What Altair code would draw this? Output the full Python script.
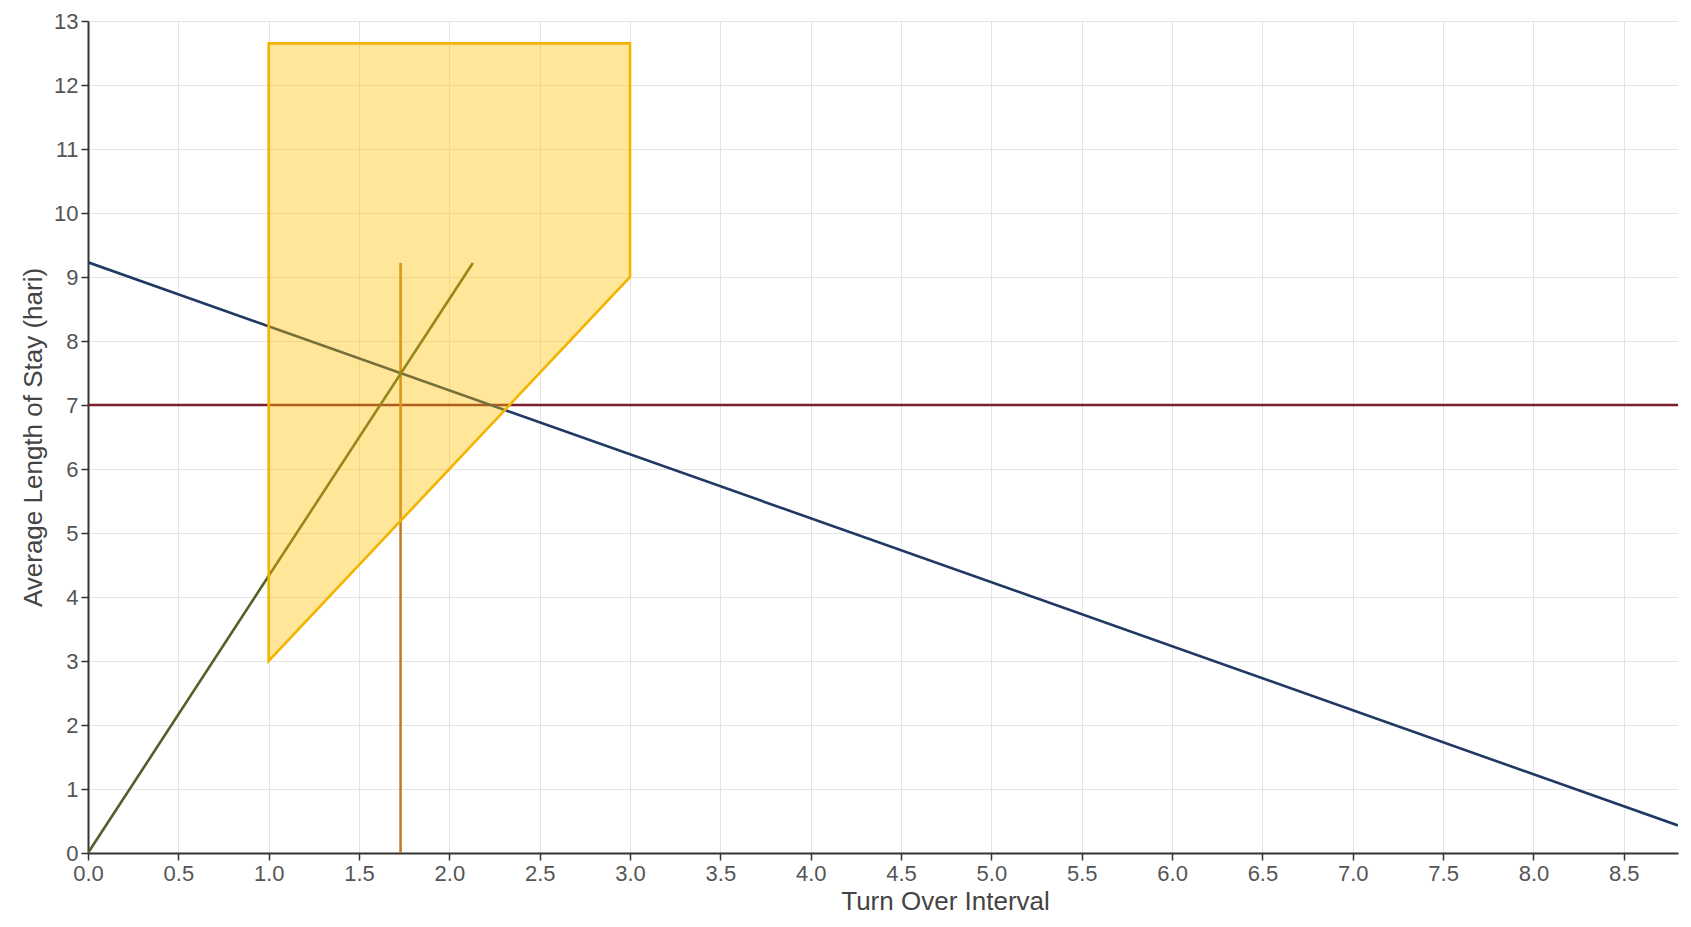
import altair as alt
import pandas as pd

# ---- data ----
x_max = 8.8
y_max = 13

# throughput line (blue)
blue_x = [0.0, 8.8]
blue_y = [9.23, 0.43]

# BOR line (green)
green_x = [0.0, 2.13]
green_y = [0.0, 9.22]

# TOI marker (orange vertical)
orange_x = [1.73, 1.73]
orange_y = [0.0, 9.22]

# LOS marker (red horizontal)
red_x = [0.0, 8.8]
red_y = [7.0, 7.0]

# efficient zone polygon
zone_x = [1.0, 3.0]
zone_top = [12.65, 12.65]
zone_bottom = [3.0, 9.0]

x_ticks = [i * 0.5 for i in range(18)]
y_ticks = list(range(0, 14))

FONT = "Liberation Sans"

xscale = alt.Scale(domain=[0, x_max], nice=False, zero=False)
yscale = alt.Scale(domain=[0, y_max], nice=False, zero=False)

xaxis = alt.Axis(values=x_ticks, format=".1f", title="Turn Over Interval",
                 titleX=857, titleY=56, titleBaseline="alphabetic", labelFlush=False)
yaxis = alt.Axis(values=y_ticks, format="d", title="Average Length of Stay (hari)",
                 titleX=-42, labelFlush=False)


def line_layer(xs, ys, color, width=2.6):
    df = pd.DataFrame({"x": xs, "y": ys})
    return alt.Chart(df).mark_line(color=color, strokeWidth=width, clip=True).encode(
        x=alt.X("x:Q", scale=xscale, axis=xaxis),
        y=alt.Y("y:Q", scale=yscale, axis=yaxis),
    )


blue = line_layer(blue_x, blue_y, "#1f3864")
red = line_layer(red_x, red_y, "#7a1f2e")
green = line_layer(green_x, green_y, "#4f6228")
orange = line_layer(orange_x, orange_y, "#c47a30")

zone_df = pd.DataFrame({"x": zone_x, "top": zone_top, "bottom": zone_bottom})
zone = alt.Chart(zone_df).mark_area(
    color="#ffc000", fillOpacity=0.4, stroke="#f2b400", strokeWidth=2.6, strokeOpacity=1
).encode(
    x=alt.X("x:Q", scale=xscale, axis=xaxis),
    y=alt.Y("top:Q", scale=yscale, axis=yaxis),
    y2="bottom:Q",
)

chart = alt.layer(red, blue, orange, green, zone).properties(
    width=1590,
    height=832,
    autosize=alt.AutoSizeParams(type="none"),
    padding={"left": 80, "top": 13, "right": 5, "bottom": 65},
).configure_view(stroke=None).configure_axis(
    labelFont=FONT,
    titleFont=FONT,
    labelFontSize=22,
    titleFontSize=26,
    titleFontWeight="normal",
    labelColor="#555555",
    titleColor="#444444",
    gridColor="#e4e4e4",
    gridWidth=1,
    domainColor="#333333",
    domainWidth=2,
    tickColor="#333333",
    tickWidth=1.5,
    tickSize=7,
    labelPadding=3,
)

chart.save("out.html", embed_options={"renderer": "svg", "actions": False})
